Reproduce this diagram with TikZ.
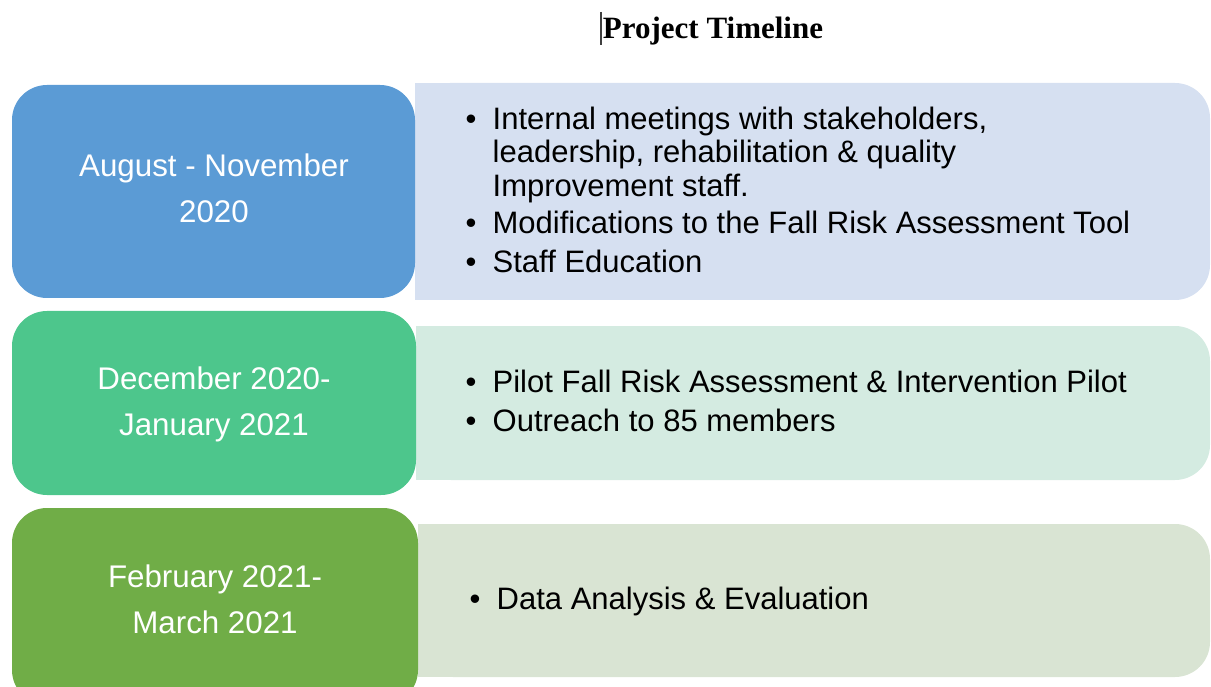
\documentclass[tikz,border=0pt]{standalone}
\usepackage{fontspec}
\setmainfont{Liberation Sans}
\newfontfamily\titlefont{Liberation Serif}

\definecolor{phaseA}{HTML}{5B9BD5}
\definecolor{phaseB}{HTML}{4DC68C}
\definecolor{phaseC}{HTML}{70AD47}
\definecolor{panelA}{HTML}{D6E0F1}
\definecolor{panelB}{HTML}{D4EBE1}
\definecolor{panelC}{HTML}{D9E4D3}

\tikzset{
  datebox/.style={fill=#1, draw=none, rounded corners=35pt},
  panelbox/.style={fill=#1, draw=none},
  datetext/.style={text=white, inner sep=0pt, anchor=base,
    font=\fontsize{31.3}{46}\selectfont},
  itemtext/.style={text=black, inner sep=0pt, anchor=base west,
    font=\fontsize{31}{33.5}\selectfont},
}
\newcommand{\bul}{\makebox[27pt][l]{•}}

\begin{document}
\begin{tikzpicture}[x=1pt,y=-1pt]
\useasboundingbox (0,0) rectangle (1211,687);
\clip (0,0) rectangle (1211,687);

% heading
\node[inner sep=0pt, anchor=base, font=\titlefont\bfseries\fontsize{31}{36}\selectfont]
  (title) at (713,39) {Project Timeline};
\draw[line width=1.3pt, black!75] (601,12) -- (601,45);

% description panels (rounded on the right side only)
\fill[panelbox=panelA, rounded corners=35pt] (415,83) rectangle (1210,300);
\fill[panelbox=panelA] (415,83) rectangle (470,300);
\fill[panelbox=panelB, rounded corners=35pt] (416,326) rectangle (1210,480);
\fill[panelbox=panelB] (416,326) rectangle (470,480);
\fill[panelbox=panelC, rounded corners=35pt] (418,524) rectangle (1210,677);
\fill[panelbox=panelC] (418,524) rectangle (470,677);

% period boxes
\fill[datebox=phaseA] (12,85) rectangle (415,298);
\fill[datebox=phaseB] (12,311) rectangle (416,495);
\fill[datebox=phaseC] (12,508) rectangle (418,705);

% period labels
\node[datetext] (d1) at (214,177) {\begin{tabular}[t]{@{}c@{}}August - November\\2020\end{tabular}};
\node[datetext] (d2) at (214,389) {\begin{tabular}[t]{@{}c@{}}December 2020-\\January 2021\end{tabular}};
\node[datetext] (d3) at (215,587) {\begin{tabular}[t]{@{}c@{}}February 2021-\\March 2021\end{tabular}};

% activities
\node[itemtext] (a1) at (465.5,129.5) {\begin{tabular}[t]{@{}l@{}l@{}}
  \bul & Internal meetings with stakeholders,\\
       & leadership, rehabilitation \& quality\\
       & Improvement staff.\\[4pt]
  \bul & Modifications to the Fall Risk Assessment Tool\\[5pt]
  \bul & Staff Education
\end{tabular}};
\node[itemtext] (a2) at (465.5,392) {\begin{tabular}[t]{@{}l@{}l@{}}
  \bul & Pilot Fall Risk Assessment \& Intervention Pilot\\[5.5pt]
  \bul & Outreach to 85 members
\end{tabular}};
\node[itemtext] (a3) at (469.5,609) {\begin{tabular}[t]{@{}l@{}l@{}}
  \bul & Data Analysis \& Evaluation
\end{tabular}};
\end{tikzpicture}
\end{document}
